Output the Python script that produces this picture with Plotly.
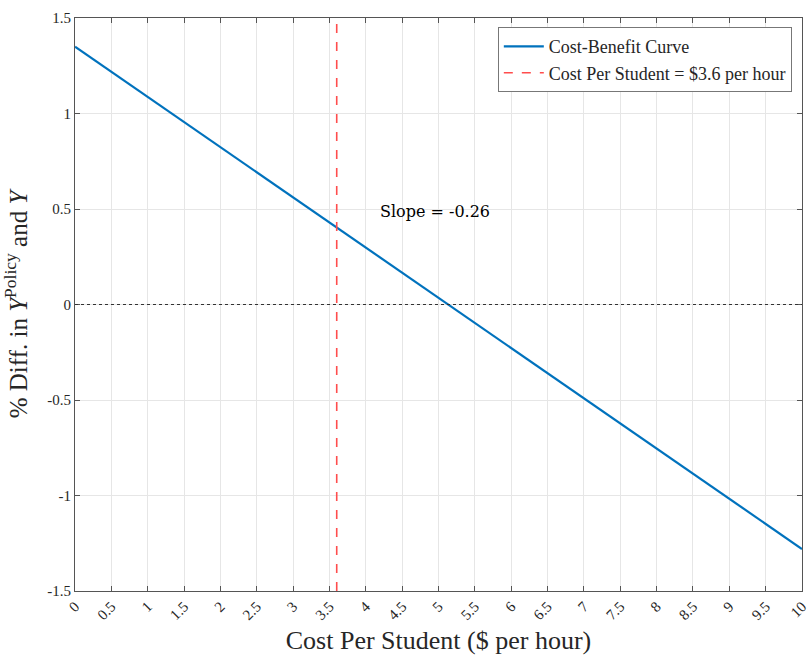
import plotly.graph_objects as go

# Data
curve_x = [0, 10]
curve_y = [1.35, -1.28]
policy_cost = 3.6
slope_label = "Slope = -0.26"
slope_pos = (4.95, 0.485)

x_ticks = [i * 0.5 for i in range(21)]
x_ticktext = ["0", "0.5", "1", "1.5", "2", "2.5", "3", "3.5", "4", "4.5", "5",
              "5.5", "6", "6.5", "7", "7.5", "8", "8.5", "9", "9.5", "10"]
y_ticks = [-1.5, -1, -0.5, 0, 0.5, 1, 1.5]
y_ticktext = ["-1.5", "-1", "-0.5", "0", "0.5", "1", "1.5"]

serif = "Liberation Serif, Times New Roman, serif"

fig = go.Figure()
fig.add_trace(go.Scatter(x=curve_x, y=curve_y, mode="lines",
                         line=dict(color="#0072BD", width=2.2),
                         name="Cost-Benefit Curve"))
fig.add_trace(go.Scatter(x=[policy_cost, policy_cost], y=[-1.5, 1.5], mode="lines",
                         line=dict(color="#FF4D4D", width=1.6, dash="dash"),
                         name="Cost Per Student = $3.6 per hour"))
fig.add_shape(type="line", x0=0, x1=10, y0=0, y1=0, xref="x", yref="y",
              line=dict(color="#333333", width=1.2, dash="dot"), layer="above")

fig.add_annotation(x=slope_pos[0], y=slope_pos[1], text=slope_label, showarrow=False,
                   font=dict(family="DejaVu Serif, Georgia, serif", size=16, color="black"))

axis_common = dict(showline=True, linecolor="#555555", linewidth=1, mirror="ticks",
                   ticks="inside", ticklen=5, tickcolor="#555555",
                   showgrid=True, gridcolor="#E6E6E6", gridwidth=1, zeroline=False,
                   automargin=False, ticklabeloverflow="allow",
                   tickfont=dict(family=serif, size=15, color="#262626"))

fig.update_layout(
    width=809, height=657,
    margin=dict(l=75, r=7, t=18, b=66),
    plot_bgcolor="white", paper_bgcolor="white",
    xaxis=dict(range=[0, 10], tickvals=x_ticks, ticktext=x_ticktext, tickangle=-45,
               title=dict(text="Cost Per Student ($ per hour)",
                          font=dict(family=serif, size=26, color="#262626"), standoff=8),
               **axis_common),
    yaxis=dict(range=[-1.5, 1.5], tickvals=y_ticks, ticktext=y_ticktext,
               title=dict(text="% Diff. in <i>Y</i><sup>Policy</sup> and <i>Y</i>",
                          font=dict(family=serif, size=25, color="#262626"), standoff=14),
               **axis_common),
    legend=dict(x=0.986, y=0.984, xanchor="right", yanchor="top",
                bgcolor="white", bordercolor="#777777", borderwidth=1,
                font=dict(family=serif, size=18, color="#262626"),
                tracegroupgap=0, itemwidth=40),
    showlegend=True,
)

fig.write_html("out.html", config={"displayModeBar": False},
               post_script="document.body.style.margin='0';")
